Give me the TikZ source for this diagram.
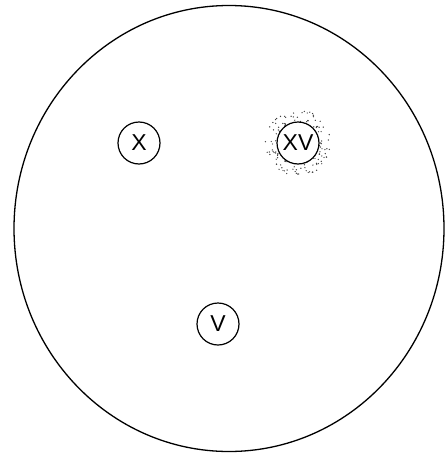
\documentclass[tikz,border=0pt]{standalone}
\usepackage{fontspec}
\setmainfont{Liberation Sans}
\begin{document}
\begin{tikzpicture}[x=1pt,y=-1pt,
  small/.style={circle,draw,line width=1.2pt,minimum size=42pt,inner sep=0pt,font=\fontsize{23}{23}\selectfont}]
\useasboundingbox (0,0) rectangle (445,458);
\draw[line width=1.3pt] (229,228.5) ellipse [x radius=215, y radius=223];
\pgfmathsetseed{7}
\foreach \i in {1,...,120}{
  \pgfmathsetmacro{\ang}{rnd*360}
  \pgfmathsetmacro{\rad}{21+rnd*12}
  \fill[black!75] (298,143) ++(\ang:\rad) circle[radius=0.7pt];
}
\node[small] (x) at (139,143) {X};
\node[small,fill=white] (xv) at (298,143) {XV};
\node[small] (v) at (218,324) {V};
\end{tikzpicture}
\end{document}
